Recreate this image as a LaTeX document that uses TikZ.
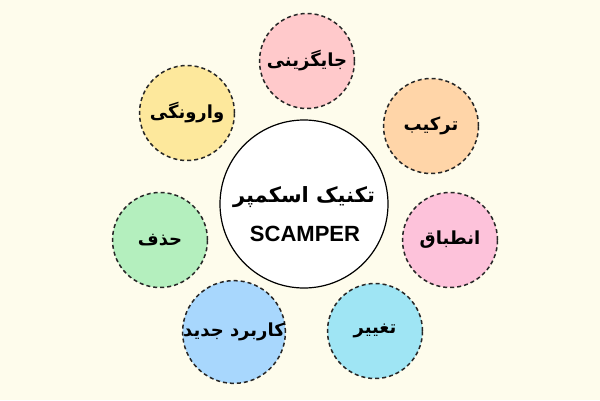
\documentclass[tikz,border=0pt]{standalone}
\usepackage{fontspec}
\setmainfont{Liberation Sans}
\newfontfamily\fa[Script=Arabic]{DejaVu Sans}
\TeXXeTstate=1
\definecolor{bgc}{HTML}{FEFCEC}
\definecolor{cpink}{HTML}{FFC9CB}
\definecolor{cpeach}{HTML}{FFD5A8}
\definecolor{crose}{HTML}{FDC2DA}
\definecolor{ccyan}{HTML}{9FE5F4}
\definecolor{cblue}{HTML}{A8D7FD}
\definecolor{cgreen}{HTML}{B4EFBE}
\definecolor{cyellow}{HTML}{FDE89C}
\begin{document}
\begin{tikzpicture}[x=1pt,y=-1pt,
  petal/.style={circle,draw=black!85,line width=1.5pt,dash pattern=on 4pt off 3pt,minimum size=95pt,inner sep=0pt,font=\fa\bfseries\fontsize{18}{21}\selectfont},
  hub/.style={circle,draw=black,line width=1.2pt,fill=white,minimum size=168pt,inner sep=0pt,align=center}]
\fill[bgc] (0,0) rectangle (600,400);
\useasboundingbox (0,0) rectangle (600,400);
\node[hub] (c) at (304,204) {};
\node[font=\fa\bfseries\fontsize{21}{24}\selectfont] (t1) at (304,197) {\beginR تکنیک اسکمپر\endR};
\node[font=\bfseries\fontsize{22}{24}\selectfont] (t2) at (305,234) {SCAMPER};
\node[petal,fill=cpink] (p1) at (307,61) {\beginR جایگزینی\endR};
\node[petal,fill=cpeach] (p2) at (431,126) {\beginR ترکیب\endR};
\node[petal,fill=crose] (p3) at (450,240) {\beginR انطباق\endR};
\node[petal,fill=ccyan] (p4) at (375,331) {\beginR تغییر\endR};
\node[petal,fill=cblue] (p5) at (234,332) {\beginR کاربرد جدید\endR};
\node[petal,fill=cgreen] (p6) at (160,240) {\beginR حذف\endR};
\node[petal,fill=cyellow] (p7) at (187,113) {\beginR وارونگی\endR};
\end{tikzpicture}
\end{document}
